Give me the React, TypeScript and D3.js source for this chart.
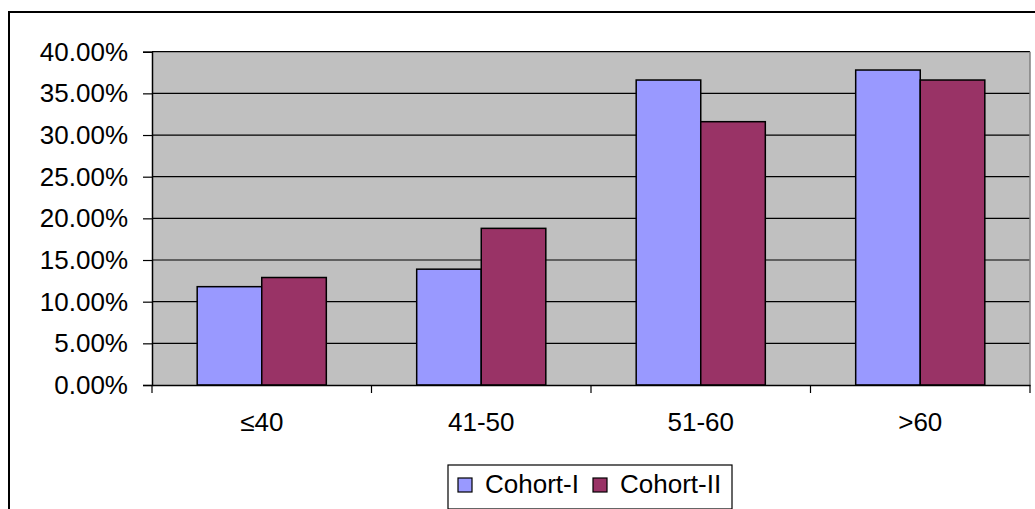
import React from 'react';
import * as d3 from 'd3';

const categories = ['≤40', '41-50', '51-60', '>60'];
const seriesNames = ['Cohort-I', 'Cohort-II'];
const cohortI = [11.8, 13.9, 36.6, 37.8];
const cohortII = [12.9, 18.8, 31.6, 36.6];
const yTicks = [0, 5, 10, 15, 20, 25, 30, 35, 40];
const colors = ['#9999FF', '#993366'];

const App = () => {
  const ref = React.useRef<SVGSVGElement>(null);

  React.useEffect(() => {
    const svg = d3.select(ref.current);
    svg.selectAll('*').remove();

    const W = 1035;
    const H = 509;
    const plot = { left: 152, top: 51.7, right: 1030, bottom: 385 };
    const font = 'Liberation Sans, Arial, sans-serif';

    // outer chart frame (cropped at the right and bottom)
    svg.append('path')
      .attr('d', `M9,${H + 5}V12H${W + 5}`)
      .attr('fill', 'none')
      .attr('stroke', '#000')
      .attr('stroke-width', 2);

    const x = d3.scaleBand().domain(categories).range([plot.left, plot.right]);
    const y = d3.scaleLinear().domain([0, 40]).range([plot.bottom, plot.top]);
    const barW = x.bandwidth() / 3.4;
    const inner = d3.scaleBand().domain(seriesNames).range([0, barW * 2]);

    svg.append('rect')
      .attr('x', plot.left).attr('y', plot.top)
      .attr('width', plot.right - plot.left).attr('height', plot.bottom - plot.top)
      .attr('fill', '#C0C0C0');

    svg.append('g')
      .selectAll('line')
      .data(yTicks.filter((t) => t > 0))
      .join('line')
      .attr('x1', plot.left).attr('x2', plot.right)
      .attr('y1', (d) => y(d)).attr('y2', (d) => y(d))
      .attr('stroke', '#000').attr('stroke-width', 1.2);

    // right border of plot area
    svg.append('line')
      .attr('x1', plot.right).attr('x2', plot.right)
      .attr('y1', plot.top).attr('y2', plot.bottom)
      .attr('stroke', '#808080').attr('stroke-width', 1.5);

    const values = [cohortI, cohortII];
    const groups = svg.append('g')
      .selectAll('g')
      .data(categories)
      .join('g')
      .attr('transform', (d) => `translate(${x(d)! + (x.bandwidth() - barW * 2) / 2},0)`);

    groups.selectAll('rect')
      .data((_, i) => seriesNames.map((s, j) => ({ s, v: values[j][i], j })))
      .join('rect')
      .attr('x', (d) => inner(d.s)!)
      .attr('y', (d) => y(d.v))
      .attr('width', inner.bandwidth())
      .attr('height', (d) => y(0) - y(d.v))
      .attr('fill', (d) => colors[d.j])
      .attr('stroke', '#000')
      .attr('stroke-width', 1.5);

    // axes
    const yAxis = svg.append('g')
      .attr('transform', `translate(${plot.left},0)`)
      .call(d3.axisLeft(y).tickValues(yTicks).tickSize(9).tickPadding(15)
        .tickFormat((d) => `${(+d).toFixed(2)}%`));
    yAxis.select('.domain').attr('stroke', '#000').attr('stroke-width', 1.5);
    yAxis.selectAll('line').attr('stroke', '#000').attr('stroke-width', 1.2);
    yAxis.selectAll('text')
      .attr('font-family', font).attr('font-size', 26).attr('fill', '#000');

    const xAxis = svg.append('g')
      .attr('transform', `translate(0,${plot.bottom})`)
      .call(d3.axisBottom(x).tickSize(0).tickPadding(28));
    xAxis.select('.domain').attr('stroke', '#000').attr('stroke-width', 1.5);
    xAxis.selectAll('text')
      .attr('font-family', font).attr('font-size', 26).attr('fill', '#000');

    const bounds = categories.map((c) => x(c)!).concat([plot.right]);
    svg.append('g')
      .selectAll('line')
      .data(bounds)
      .join('line')
      .attr('x1', (d) => d).attr('x2', (d) => d)
      .attr('y1', plot.bottom).attr('y2', plot.bottom + 8)
      .attr('stroke', '#000').attr('stroke-width', 1.2);

    // legend
    const lg = svg.append('g').attr('transform', 'translate(448,465)');
    lg.append('rect')
      .attr('width', 284).attr('height', 44)
      .attr('fill', '#fff').attr('stroke', '#000').attr('stroke-width', 1.2);
    const offsets = [10, 145];
    seriesNames.forEach((s, i) => {
      lg.append('rect')
        .attr('x', offsets[i]).attr('y', 13)
        .attr('width', 14).attr('height', 14)
        .attr('fill', colors[i]).attr('stroke', '#000').attr('stroke-width', 1.2);
      lg.append('text')
        .attr('x', offsets[i] + 27).attr('y', 28)
        .attr('font-family', font).attr('font-size', 26)
        .text(s);
    });
  }, []);

  return (
    <svg
      ref={ref}
      width={1035}
      height={509}
      style={{ position: 'absolute', left: 0, top: 0, background: '#fff' }}
    />
  );
};

export default App;
